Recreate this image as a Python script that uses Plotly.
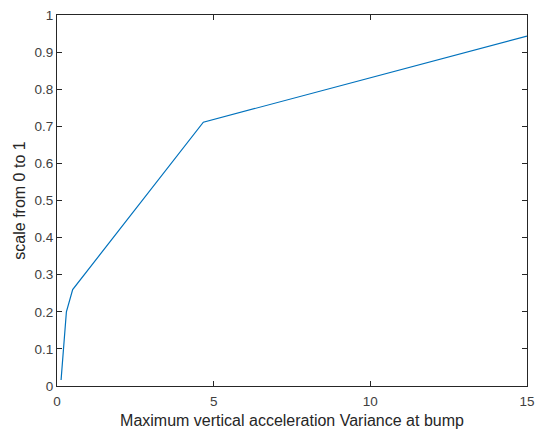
import plotly.graph_objects as go

x_vals = [0.13, 0.3, 0.5, 4.67, 15]
y_vals = [0.016, 0.2, 0.26, 0.711, 0.943]

x_ticks = [0, 5, 10, 15]
y_ticks = [0, 0.1, 0.2, 0.3, 0.4, 0.5, 0.6, 0.7, 0.8, 0.9, 1]

axis_color = "#262626"
fig = go.Figure(go.Scatter(x=x_vals, y=y_vals, mode="lines",
                           line=dict(color="#0072BD", width=1.2)))
common = dict(showgrid=False, zeroline=False, showline=True, linecolor=axis_color,
              linewidth=1, mirror="ticks", ticks="inside", ticklen=5,
              tickcolor=axis_color, tickfont=dict(size=13.5, color="#404040"),
              automargin=False)
fig.update_layout(
    width=536, height=432,
    margin=dict(l=57, r=9, t=15, b=46),
    paper_bgcolor="white", plot_bgcolor="white",
    font=dict(family="Liberation Sans, Arial, sans-serif", color=axis_color),
    showlegend=False,
    xaxis=dict(range=[0, 15], tickvals=x_ticks, ticktext=[str(t) for t in x_ticks],
               ticklabelstandoff=3,
               title=dict(text="Maximum vertical acceleration Variance at bump",
                          font=dict(size=16), standoff=6), **common),
    yaxis=dict(range=[0, 1], tickvals=y_ticks, ticktext=[f"{t:g}" for t in y_ticks],
               title=dict(text="scale from 0 to 1", font=dict(size=16), standoff=4),
               **common),
)
fig.write_html("out.html")
